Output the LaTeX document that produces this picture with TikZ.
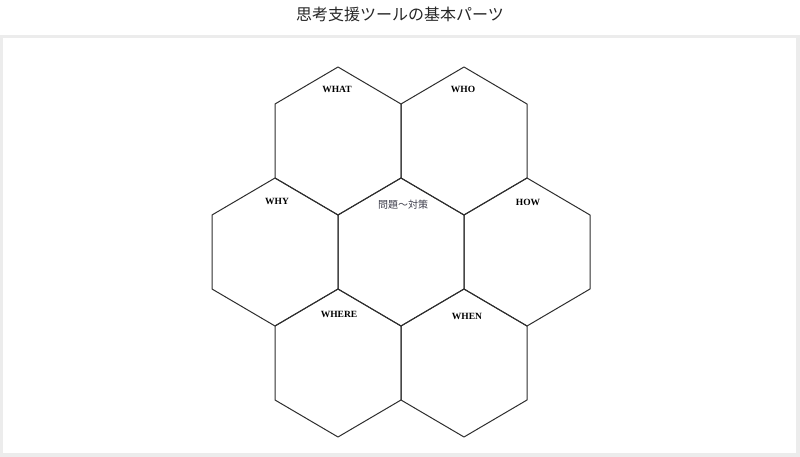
\documentclass[tikz,border=0pt]{standalone}
\usepackage{fontspec}
\setmainfont{Liberation Serif}
\newfontfamily\jpfont{Noto Sans CJK JP}
\usepackage{xcolor}
\usetikzlibrary{positioning}
\definecolor{framegray}{HTML}{ECECEC}
\definecolor{hexline}{HTML}{2E2E2E}
\definecolor{corefont}{HTML}{3C3C4A}
\tikzset{hexlabel/.style={font=\fontsize{9.5}{11}\selectfont\bfseries, text=black, inner sep=0pt}}

\begin{document}
\begin{tikzpicture}[x=1pt,y=-1pt]
    \useasboundingbox (0,0) rectangle (800,457);
    \fill[framegray] (0,35) rectangle (800,457);
    \fill[white] (3,38) rectangle (796,452.5);
    \node[text=black!85] (title) at (400,14) {\jpfont\fontsize{16}{18}\selectfont 思考支援ツールの基本パーツ};

    % honeycomb
    \foreach \n/\x/\y in {what/338/141,who/464/141,why/275/252,core/401/252,how/527/252,where/338/363,when/464/363}{
        \coordinate (\n) at (\x,\y);
        \draw[hexline,line width=1pt,line join=round] (\n) ++(0,-74) -- ++(63,37) -- ++(0,74) -- ++(-63,37) -- ++(-63,-37) -- ++(0,-74) -- cycle;
    }

    \node[hexlabel] (whatlab) at (337,89) {WHAT};
    \node[hexlabel] (wholab) at (463,89) {WHO};
    \node[hexlabel] (whylab) at (277,201) {WHY};
    \node[inner sep=0pt,text=corefont] (corelab) at (403,205) {\jpfont\fontsize{10}{12}\selectfont 問題〜対策};
    \node[hexlabel] (howlab) at (528,202) {HOW};
    \node[hexlabel] (wherelab) at (339,314) {WHERE};
    \node[hexlabel] (whenlab) at (467,316) {WHEN};
\end{tikzpicture}
\end{document}
